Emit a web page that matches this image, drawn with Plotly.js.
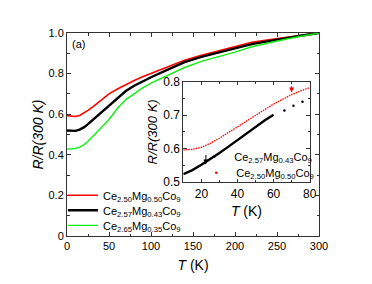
<!DOCTYPE html>
<html><head><meta charset="utf-8">
<script src="https://cdn.plot.ly/plotly-3.0.1.min.js"></script>
<style>html,body{margin:0;padding:0;background:#fff;}#chart{width:372px;height:284px;}</style>
</head><body><div id="chart"></div>
<script>
// Main panel data: T (K) and R/R(300 K)
const tMain = [0,5,10,15,20,25,30,35,40,45,50,60,70,80,90,100,120,140,160,180,200,220,240,260,280,300];
const rMg050 = [0.593,0.590,0.589,0.594,0.605,0.619,0.634,0.651,0.669,0.685,0.700,0.724,0.746,0.766,0.784,0.801,0.834,0.866,0.890,0.912,0.934,0.954,0.967,0.979,0.990,1.0];
const rMg043 = [0.520,0.518,0.518,0.524,0.535,0.551,0.569,0.589,0.609,0.626,0.643,0.682,0.714,0.740,0.762,0.782,0.820,0.856,0.882,0.903,0.926,0.945,0.960,0.975,0.988,1.0];
const rMg035 = [0.428,0.428,0.431,0.438,0.449,0.467,0.487,0.510,0.530,0.552,0.574,0.628,0.672,0.703,0.730,0.753,0.793,0.830,0.860,0.882,0.906,0.932,0.951,0.969,0.985,1.0];
// Inset data
const tInsetRed = [10,15,20,25,30,35,40,45,50,55,60,65,70,75,80];
const rInsetRed = [0.596,0.598,0.604,0.616,0.631,0.648,0.666,0.684,0.701,0.717,0.733,0.747,0.761,0.772,0.782];
const tInsetBlk = [10,15,20,25,30,35,40,45,50,55,60];
const rInsetBlk = [0.524,0.536,0.552,0.569,0.587,0.606,0.626,0.646,0.666,0.684,0.701];
const tInsetBlkDots = [66,71,76];
const rInsetBlkDots = [0.714,0.728,0.740];
// Labels
const nameMg050 = 'Ce<sub>2.50</sub>Mg<sub>0.50</sub>Co<sub>9</sub>';
const nameMg043 = 'Ce<sub>2.57</sub>Mg<sub>0.43</sub>Co<sub>9</sub>';
const nameMg035 = 'Ce<sub>2.65</sub>Mg<sub>0.35</sub>Co<sub>9</sub>';
const mainYTicks = [0,0.2,0.4,0.6,0.8,1.0];
const mainYLabels = ['0','0.2','0.4','0.6','0.8','1.0'];
const insetYTicks = [0.5,0.6,0.7,0.8];
const insetYLabels = ['0.5','0.6','0.7','0.8'];

const FONT = 'Liberation Sans, Arial, sans-serif';
const RED = '#ff0000', BLK = '#000000', GRN = '#11ee11';
const traces = [
  {x:tMain, y:rMg050, mode:'lines', line:{color:RED, width:1.6}, name:nameMg050, legend:'legend', xaxis:'x', yaxis:'y'},
  {x:tMain, y:rMg043, mode:'lines', line:{color:BLK, width:2.4}, name:nameMg043, legend:'legend4', xaxis:'x', yaxis:'y'},
  {x:tMain, y:rMg035, mode:'lines', line:{color:GRN, width:1.4}, name:nameMg035, legend:'legend5', xaxis:'x', yaxis:'y'},
  {x:tInsetRed, y:rInsetRed, mode:'lines', line:{color:RED, width:1.3, dash:'1.5px,1px'}, showlegend:false, xaxis:'x2', yaxis:'y2'},
  {x:tInsetBlk, y:rInsetBlk, mode:'lines', line:{color:BLK, width:2.4}, showlegend:false, xaxis:'x2', yaxis:'y2'},
  {x:tInsetBlkDots, y:rInsetBlkDots, mode:'markers', marker:{color:BLK, size:2.5}, name:nameMg043, legend:'legend2', xaxis:'x2', yaxis:'y2'},
  {x:[null], y:[null], mode:'markers', marker:{color:RED, size:2.5}, name:nameMg050, legend:'legend3', xaxis:'x2', yaxis:'y2'}
];

const axBase = {showline:true, linecolor:'#333', linewidth:1, mirror:'allticks', ticks:'inside',
  tickcolor:'#333', zeroline:false, showgrid:false, tickfont:{family:FONT, size:11, color:'#000'}};

const legBase = {bgcolor:'rgba(0,0,0,0)', borderwidth:0, font:{family:FONT, size:11, color:'#000'},
  itemwidth:30, tracegroupgap:0, itemclick:false, xanchor:'left', yanchor:'top'};
const L = (x, y) => Object.assign({}, legBase, {x:x, y:y});

const layout = {
  width:372, height:284, paper_bgcolor:'#fff', plot_bgcolor:'#fff',
  margin:{l:67, r:53, t:33, b:48},
  font:{family:FONT, color:'#000'},
  showlegend:true,
  xaxis: Object.assign({}, axBase, {range:[0,300], dtick:50, ticklen:4, domain:[0,1],
    minor:{ticks:'inside', dtick:25, ticklen:2.5, tickcolor:'#333'},
    title:{text:'<i>T</i> (K)', font:{family:FONT, size:14}, standoff:8}}),
  yaxis: Object.assign({}, axBase, {range:[0,1], tickvals:mainYTicks, ticktext:mainYLabels, ticklen:4, domain:[0,1],
    minor:{ticks:'inside', dtick:0.1, ticklen:2.5, tickcolor:'#333'},
    title:{text:'<i>R/R(300 K)</i>', font:{family:FONT, size:14}, standoff:1}}),
  xaxis2: Object.assign({}, axBase, {anchor:'y2', range:[10,80], dtick:20, tick0:0, ticklen:3.5, domain:[0.4616,0.963],
    tickfont:{family:FONT, size:12, color:'#000'},
    minor:{ticks:'inside', dtick:10, ticklen:2, tickcolor:'#333'},
    title:{text:'<i>T</i> (K)', font:{family:FONT, size:14}, standoff:6}}),
  yaxis2: Object.assign({}, axBase, {anchor:'x2', range:[0.5,0.8], tickvals:insetYTicks, ticktext:insetYLabels, ticklen:3.5, domain:[0.265,0.761],
    tickfont:{family:FONT, size:12, color:'#000'},
    minor:{ticks:'inside', dtick:0.05, ticklen:2, tickcolor:'#333'},
    title:{text:'<i>R/R(300 K)</i>', font:{family:FONT, size:13}, standoff:2}}),
  legend: L(-0.016, 0.272),
  legend4: L(-0.016, 0.198),
  legend5: L(-0.016, 0.124),
  legend2: L(0.505, 0.462),
  legend3: L(0.513, 0.383),
  annotations:[
    {text:'(a)', xref:'paper', yref:'paper', x:0.01, y:0.985, xanchor:'left', yanchor:'top', showarrow:false, font:{family:FONT, size:11}},
    {text:'', xref:'x2', yref:'y2', x:22.5, y:0.553, ax:0, ay:-11, showarrow:true, arrowhead:2, arrowsize:1, arrowwidth:1, arrowcolor:'#000'},
    {text:'', xref:'x2', yref:'y2', x:70, y:0.767, ax:0, ay:-8, showarrow:true, arrowhead:2, arrowsize:1, arrowwidth:1, arrowcolor:RED}
  ]
};
Plotly.newPlot('chart', traces, layout, {staticPlot:true, displayModeBar:false});
</script></body></html>
